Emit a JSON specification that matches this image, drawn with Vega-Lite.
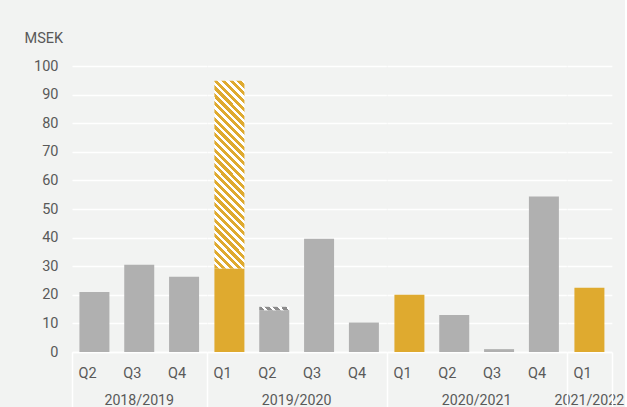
{
  "$schema": "https://vega.github.io/schema/vega-lite/v6.json",
  "background": "#F2F3F2",
  "padding": {"left": 24, "top": 30, "right": 0, "bottom": 0},
  "bounds": "flush",
  "data": {"values": [
    {"year": "2018/2019", "quarter": "Q2", "key": "2018/2019 Q2", "part": "reported", "low": 0, "high": 21.0},
    {"year": "2018/2019", "quarter": "Q3", "key": "2018/2019 Q3", "part": "reported", "low": 0, "high": 30.5},
    {"year": "2018/2019", "quarter": "Q4", "key": "2018/2019 Q4", "part": "reported", "low": 0, "high": 26.3},
    {"year": "2019/2020", "quarter": "Q1", "key": "2019/2020 Q1", "part": "reported", "low": 0, "high": 29.2},
    {"year": "2019/2020", "quarter": "Q1", "key": "2019/2020 Q1", "part": "hatched", "low": 29.2, "high": 94.8},
    {"year": "2019/2020", "quarter": "Q2", "key": "2019/2020 Q2", "part": "reported", "low": 0, "high": 14.6},
    {"year": "2019/2020", "quarter": "Q2", "key": "2019/2020 Q2", "part": "hatched", "low": 14.6, "high": 15.8},
    {"year": "2019/2020", "quarter": "Q3", "key": "2019/2020 Q3", "part": "reported", "low": 0, "high": 39.6},
    {"year": "2019/2020", "quarter": "Q4", "key": "2019/2020 Q4", "part": "reported", "low": 0, "high": 10.3},
    {"year": "2020/2021", "quarter": "Q1", "key": "2020/2021 Q1", "part": "reported", "low": 0, "high": 20.0},
    {"year": "2020/2021", "quarter": "Q2", "key": "2020/2021 Q2", "part": "reported", "low": 0, "high": 12.9},
    {"year": "2020/2021", "quarter": "Q3", "key": "2020/2021 Q3", "part": "reported", "low": 0, "high": 1.0},
    {"year": "2020/2021", "quarter": "Q4", "key": "2020/2021 Q4", "part": "reported", "low": 0, "high": 54.4},
    {"year": "2021/2022", "quarter": "Q1", "key": "2021/2022 Q1", "part": "reported", "low": 0, "high": 22.5}
  ]},
  "spacing": 0,
  "facet": {
    "column": {
      "field": "year",
      "type": "nominal",
      "sort": ["2018/2019", "2019/2020", "2020/2021", "2021/2022"],
      "header": {
        "title": null,
        "labelOrient": "bottom",
        "labelFontSize": 14.2,
        "labelColor": "#595959",
        "labelFont": "Roboto",
        "labelPadding": 42
      }
    }
  },
  "resolve": {"scale": {"x": "independent"}},
  "spec": {
    "width": {"step": 44.83},
    "height": 286,
    "encoding": {
      "x": {
        "field": "key",
        "type": "nominal",
        "sort": null,
        "scale": {"paddingInner": 0.331, "paddingOuter": 0.1655},
        "axis": {
          "title": null,
          "labelAngle": 0,
          "labelExpr": "length(datum.label) > 2 ? slice(datum.label, -2) : ''",
          "labelFontSize": 14.5,
          "labelColor": "#595959",
          "labelPadding": -41,
          "domainColor": "#FFFFFF",
          "domainWidth": 1.5,
          "bandPosition": 1.494,
          "tickExtra": true,
          "tickOffset": -7.42,
          "tickSize": 55,
          "tickWidth": 1.5,
          "tickColor": {"condition": {"test": "datum.index < 0 || datum.value == '2021/2022 Q1'", "value": "#FFFFFF"}, "value": "transparent"}
        }
      },
      "y": {
        "field": "low",
        "type": "quantitative",
        "scale": {"domain": [0, 100], "nice": false},
        "axis": {
          "title": "MSEK",
          "titleAngle": 0,
          "titleAlign": "left",
          "titleBaseline": "middle",
          "titleX": -48,
          "titleY": -28,
          "titleFontSize": 14.5,
          "titleFontWeight": "normal",
          "titleColor": "#595959",
          "values": [0, 10, 20, 30, 40, 50, 60, 70, 80, 90, 100],
          "labelFontSize": 14.5,
          "labelColor": "#595959",
          "labelPadding": 14,
          "ticks": false,
          "domain": false,
          "grid": true,
          "gridColor": "#FFFFFF",
          "gridWidth": 1.6
        }
      },
      "y2": {"field": "high"}
    },
    "layer": [
      {
        "transform": [{"filter": "datum.part == 'reported'"}],
        "mark": {"type": "bar"},
        "encoding": {
          "color": {"condition": {"test": "datum.quarter == 'Q1'", "value": "#DFAA2F"}, "value": "#B0B0B0"}
        }
      },
      {
        "transform": [{"filter": "datum.part == 'hatched' && datum.quarter == 'Q1'"}],
        "mark": {
          "type": "bar",
          "fill": {
            "gradient": "linear", "x1": 0, "y1": 1, "x2": 0.1815, "y2": -0.1314,
            "stops": [
              {"offset": 0, "color": "#DFAA2F"}, {"offset": 0.0196, "color": "#DFAA2F"}, {"offset": 0.0196, "color": "#FFFFFF"}, {"offset": 0.0357, "color": "#FFFFFF"},
              {"offset": 0.0357, "color": "#DFAA2F"}, {"offset": 0.0554, "color": "#DFAA2F"}, {"offset": 0.0554, "color": "#FFFFFF"}, {"offset": 0.0714, "color": "#FFFFFF"},
              {"offset": 0.0714, "color": "#DFAA2F"}, {"offset": 0.0911, "color": "#DFAA2F"}, {"offset": 0.0911, "color": "#FFFFFF"}, {"offset": 0.1071, "color": "#FFFFFF"},
              {"offset": 0.1071, "color": "#DFAA2F"}, {"offset": 0.1268, "color": "#DFAA2F"}, {"offset": 0.1268, "color": "#FFFFFF"}, {"offset": 0.1429, "color": "#FFFFFF"},
              {"offset": 0.1429, "color": "#DFAA2F"}, {"offset": 0.1625, "color": "#DFAA2F"}, {"offset": 0.1625, "color": "#FFFFFF"}, {"offset": 0.1786, "color": "#FFFFFF"},
              {"offset": 0.1786, "color": "#DFAA2F"}, {"offset": 0.1982, "color": "#DFAA2F"}, {"offset": 0.1982, "color": "#FFFFFF"}, {"offset": 0.2143, "color": "#FFFFFF"},
              {"offset": 0.2143, "color": "#DFAA2F"}, {"offset": 0.2339, "color": "#DFAA2F"}, {"offset": 0.2339, "color": "#FFFFFF"}, {"offset": 0.25, "color": "#FFFFFF"},
              {"offset": 0.25, "color": "#DFAA2F"}, {"offset": 0.2696, "color": "#DFAA2F"}, {"offset": 0.2696, "color": "#FFFFFF"}, {"offset": 0.2857, "color": "#FFFFFF"},
              {"offset": 0.2857, "color": "#DFAA2F"}, {"offset": 0.3054, "color": "#DFAA2F"}, {"offset": 0.3054, "color": "#FFFFFF"}, {"offset": 0.3214, "color": "#FFFFFF"},
              {"offset": 0.3214, "color": "#DFAA2F"}, {"offset": 0.3411, "color": "#DFAA2F"}, {"offset": 0.3411, "color": "#FFFFFF"}, {"offset": 0.3571, "color": "#FFFFFF"},
              {"offset": 0.3571, "color": "#DFAA2F"}, {"offset": 0.3768, "color": "#DFAA2F"}, {"offset": 0.3768, "color": "#FFFFFF"}, {"offset": 0.3929, "color": "#FFFFFF"},
              {"offset": 0.3929, "color": "#DFAA2F"}, {"offset": 0.4125, "color": "#DFAA2F"}, {"offset": 0.4125, "color": "#FFFFFF"}, {"offset": 0.4286, "color": "#FFFFFF"},
              {"offset": 0.4286, "color": "#DFAA2F"}, {"offset": 0.4482, "color": "#DFAA2F"}, {"offset": 0.4482, "color": "#FFFFFF"}, {"offset": 0.4643, "color": "#FFFFFF"},
              {"offset": 0.4643, "color": "#DFAA2F"}, {"offset": 0.4839, "color": "#DFAA2F"}, {"offset": 0.4839, "color": "#FFFFFF"}, {"offset": 0.5, "color": "#FFFFFF"},
              {"offset": 0.5, "color": "#DFAA2F"}, {"offset": 0.5196, "color": "#DFAA2F"}, {"offset": 0.5196, "color": "#FFFFFF"}, {"offset": 0.5357, "color": "#FFFFFF"},
              {"offset": 0.5357, "color": "#DFAA2F"}, {"offset": 0.5554, "color": "#DFAA2F"}, {"offset": 0.5554, "color": "#FFFFFF"}, {"offset": 0.5714, "color": "#FFFFFF"},
              {"offset": 0.5714, "color": "#DFAA2F"}, {"offset": 0.5911, "color": "#DFAA2F"}, {"offset": 0.5911, "color": "#FFFFFF"}, {"offset": 0.6071, "color": "#FFFFFF"},
              {"offset": 0.6071, "color": "#DFAA2F"}, {"offset": 0.6268, "color": "#DFAA2F"}, {"offset": 0.6268, "color": "#FFFFFF"}, {"offset": 0.6429, "color": "#FFFFFF"},
              {"offset": 0.6429, "color": "#DFAA2F"}, {"offset": 0.6625, "color": "#DFAA2F"}, {"offset": 0.6625, "color": "#FFFFFF"}, {"offset": 0.6786, "color": "#FFFFFF"},
              {"offset": 0.6786, "color": "#DFAA2F"}, {"offset": 0.6982, "color": "#DFAA2F"}, {"offset": 0.6982, "color": "#FFFFFF"}, {"offset": 0.7143, "color": "#FFFFFF"},
              {"offset": 0.7143, "color": "#DFAA2F"}, {"offset": 0.7339, "color": "#DFAA2F"}, {"offset": 0.7339, "color": "#FFFFFF"}, {"offset": 0.75, "color": "#FFFFFF"},
              {"offset": 0.75, "color": "#DFAA2F"}, {"offset": 0.7696, "color": "#DFAA2F"}, {"offset": 0.7696, "color": "#FFFFFF"}, {"offset": 0.7857, "color": "#FFFFFF"},
              {"offset": 0.7857, "color": "#DFAA2F"}, {"offset": 0.8054, "color": "#DFAA2F"}, {"offset": 0.8054, "color": "#FFFFFF"}, {"offset": 0.8214, "color": "#FFFFFF"},
              {"offset": 0.8214, "color": "#DFAA2F"}, {"offset": 0.8411, "color": "#DFAA2F"}, {"offset": 0.8411, "color": "#FFFFFF"}, {"offset": 0.8571, "color": "#FFFFFF"},
              {"offset": 0.8571, "color": "#DFAA2F"}, {"offset": 0.8768, "color": "#DFAA2F"}, {"offset": 0.8768, "color": "#FFFFFF"}, {"offset": 0.8929, "color": "#FFFFFF"},
              {"offset": 0.8929, "color": "#DFAA2F"}, {"offset": 0.9125, "color": "#DFAA2F"}, {"offset": 0.9125, "color": "#FFFFFF"}, {"offset": 0.9286, "color": "#FFFFFF"},
              {"offset": 0.9286, "color": "#DFAA2F"}, {"offset": 0.9482, "color": "#DFAA2F"}, {"offset": 0.9482, "color": "#FFFFFF"}, {"offset": 0.9643, "color": "#FFFFFF"},
              {"offset": 0.9643, "color": "#DFAA2F"}, {"offset": 0.9839, "color": "#DFAA2F"}, {"offset": 0.9839, "color": "#FFFFFF"}, {"offset": 1, "color": "#FFFFFF"}
            ]
          }
        }
      },
      {
        "transform": [{"filter": "datum.part == 'hatched' && datum.quarter != 'Q1'"}],
        "mark": {
          "type": "bar",
          "fill": {
            "gradient": "linear", "x1": 0, "y1": 1, "x2": 1.089, "y2": 0.891,
            "stops": [
              {"offset": 0, "color": "#8C8C8C"}, {"offset": 0.15, "color": "#8C8C8C"}, {"offset": 0.15, "color": "#FFFFFF"}, {"offset": 0.25, "color": "#FFFFFF"},
              {"offset": 0.25, "color": "#8C8C8C"}, {"offset": 0.4, "color": "#8C8C8C"}, {"offset": 0.4, "color": "#FFFFFF"}, {"offset": 0.5, "color": "#FFFFFF"},
              {"offset": 0.5, "color": "#8C8C8C"}, {"offset": 0.65, "color": "#8C8C8C"}, {"offset": 0.65, "color": "#FFFFFF"}, {"offset": 0.75, "color": "#FFFFFF"},
              {"offset": 0.75, "color": "#8C8C8C"}, {"offset": 0.9, "color": "#8C8C8C"}, {"offset": 0.9, "color": "#FFFFFF"}, {"offset": 1, "color": "#FFFFFF"}
            ]
          }
        }
      }
    ]
  },
  "config": {
    "font": "Roboto",
    "view": {"stroke": null}
  }
}
